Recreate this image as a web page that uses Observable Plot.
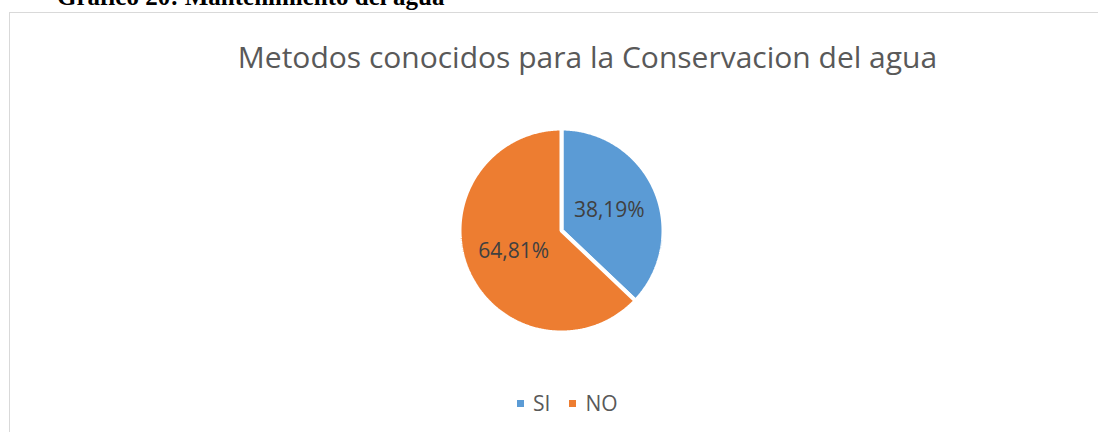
<!DOCTYPE html>
<html>
<head>
<meta charset="utf-8">
<script src="https://cdn.jsdelivr.net/npm/d3@7"></script>
<script src="https://cdn.jsdelivr.net/npm/@observablehq/plot@0.6"></script>
<style>
  html, body { margin: 0; padding: 0; background: #fff; }
  #wrap { position: relative; width: 1098px; height: 432px; overflow: hidden; background: #fff; }
  #cap { position: absolute; left: 57px; top: -16px; font-family: "Liberation Serif", "Times New Roman", serif; font-weight: bold; font-size: 25px; line-height: 25px; color: #000; white-space: nowrap; }
  #frame { position: absolute; left: 9px; top: 12px; width: 1250px; height: 520px; border: 1px solid #d9d9d9; box-sizing: border-box; }
  #title { position: absolute; left: 0; width: 1175px; top: 40px; text-align: center; font-family: "Open Sans", sans-serif; font-size: 30px; line-height: 34px; color: #595959; white-space: nowrap; }
  #pie { position: absolute; left: 450px; top: 120px; }
  #legend { position: absolute; left: 517px; top: 389px; display: flex; align-items: center; font-family: "Open Sans", sans-serif; font-size: 21px; line-height: 28px; color: #595959; }
  #legend .sw { width: 7px; height: 7px; display: inline-block; margin-right: 9px; }
  #legend .it { display: flex; align-items: center; margin-right: 19px; }
</style>
</head>
<body>
<div id="wrap">
  <div id="cap">Gráfico 20: Mantenimiento del agua</div>
  <div id="frame"></div>
  <div id="title">Metodos conocidos para la Conservacion del agua</div>
  <div id="pie"></div>
  <div id="legend"></div>
</div>
<script>
const categories = ["SI", "NO"];
const values = [38.19, 64.81];
const labels = ["38,19%", "64,81%"];
const colors = ["#5b9bd5", "#ed7d31"];

const total = d3.sum(values);
const slices = [];
let acc = 0;
categories.forEach((c, i) => {
  const a0 = acc / total * 2 * Math.PI;
  acc += values[i];
  const a1 = acc / total * 2 * Math.PI;
  slices.push({cat: c, a0, a1, label: labels[i]});
});

const pts = [];
for (const s of slices) {
  pts.push({cat: s.cat, x: 0, y: 0});
  const n = Math.ceil((s.a1 - s.a0) / (Math.PI / 360));
  for (let k = 0; k <= n; k++) {
    const a = s.a0 + (s.a1 - s.a0) * k / n;
    pts.push({cat: s.cat, x: Math.sin(a), y: Math.cos(a)});
  }
}
const lab = slices.map(s => {
  const m = (s.a0 + s.a1) / 2;
  return {cat: s.cat, label: s.label, x: 0.51 * Math.sin(m), y: 0.51 * Math.cos(m)};
});

const R = 102;
const size = 2 * R + 16;
const chart = Plot.plot({
  width: size, height: size, margin: 8,
  x: {domain: [-1, 1], axis: null},
  y: {domain: [-1, 1], axis: null},
  color: {domain: categories, range: colors},
  style: {background: "transparent", overflow: "visible"},
  marks: [
    Plot.line(pts, {x: "x", y: "y", z: "cat", fill: "cat", stroke: "white", strokeWidth: 4, strokeLinejoin: "miter", curve: "linear-closed"}),
    Plot.text(lab, {x: "x", y: "y", text: "label", fill: "#404040", fontSize: 21, fontFamily: "Open Sans"})
  ]
});
document.getElementById("pie").style.left = (560.5 - size / 2) + "px";
document.getElementById("pie").style.top = (230 - size / 2) + "px";
document.getElementById("pie").appendChild(chart);

const leg = document.getElementById("legend");
categories.forEach((c, i) => {
  const it = document.createElement("div");
  it.className = "it";
  const sw = document.createElement("span");
  sw.className = "sw";
  sw.style.background = colors[i];
  const t = document.createElement("span");
  t.textContent = c;
  it.appendChild(sw); it.appendChild(t);
  leg.appendChild(it);
});
</script>
</body>
</html>
